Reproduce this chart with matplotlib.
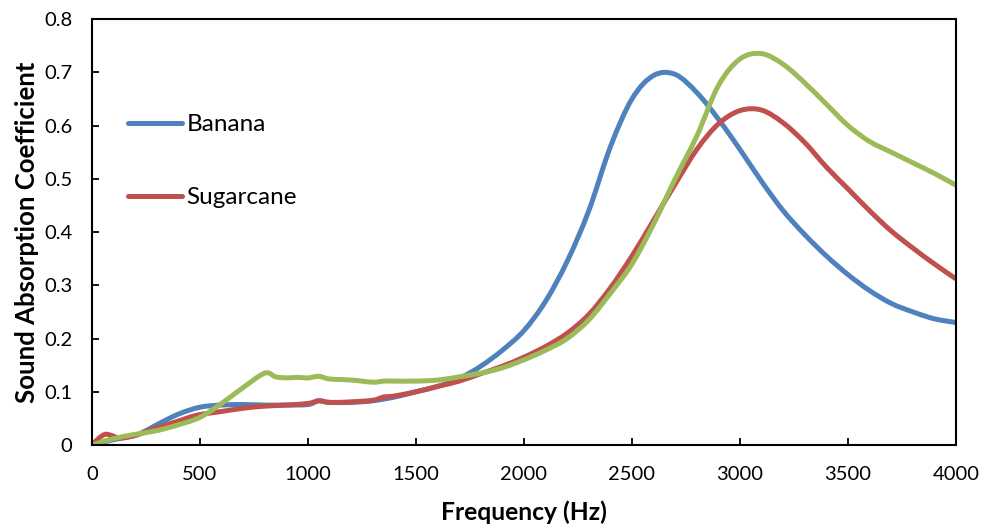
import matplotlib
matplotlib.use("Agg")
import matplotlib.pyplot as plt
from matplotlib.path import Path
from matplotlib.patches import PathPatch
from matplotlib.lines import Line2D

# Frequency (Hz) and absorption coefficients
banana_f = [0, 100, 200, 255, 300, 400, 500, 600, 700, 800, 900, 1000, 1050, 1100,
            1200, 1300, 1400, 1500, 1600, 1700, 1800, 1900, 2000, 2100, 2200, 2300,
            2400, 2500, 2600, 2700, 2800, 2900, 3000, 3100, 3200, 3300, 3400,
            3500, 3600, 3700, 3800, 3900, 4000]
banana_a = [0, 0.01, 0.018, 0.028, 0.038, 0.058, 0.071, 0.075, 0.076, 0.075, 0.075,
            0.076, 0.083, 0.08, 0.08, 0.083, 0.09, 0.1, 0.11, 0.125, 0.148, 0.178,
            0.215, 0.27, 0.345, 0.44, 0.56, 0.65, 0.694, 0.696, 0.662, 0.612,
            0.555, 0.495, 0.44, 0.395, 0.355, 0.32, 0.29, 0.266, 0.25, 0.237, 0.23]

sugar_f = [0, 30, 60, 90, 130, 200, 255, 300, 400, 486, 600, 700, 800, 900, 1000,
           1050, 1100, 1200, 1300, 1350, 1400, 1500, 1600, 1700, 1800, 1900, 2000,
           2100, 2200, 2300, 2400, 2500, 2600, 2700, 2800, 2900, 3000, 3100,
           3200, 3300, 3400, 3500, 3600, 3700, 3800, 3900, 4000]
sugar_a = [0, 0.012, 0.02, 0.018, 0.013, 0.018, 0.026, 0.032, 0.045, 0.056, 0.063,
           0.069, 0.073, 0.075, 0.078, 0.083, 0.08, 0.081, 0.084, 0.09, 0.092, 0.1,
           0.11, 0.12, 0.134, 0.148, 0.165, 0.185, 0.21, 0.245, 0.295, 0.355, 0.422,
           0.49, 0.555, 0.603, 0.628, 0.629, 0.605, 0.568, 0.522, 0.481, 0.44,
           0.402, 0.37, 0.34, 0.312]

third_f = [0, 100, 200, 300, 400, 500, 600, 700, 800, 850, 900, 950, 1000, 1050,
           1100, 1200, 1300, 1350, 1400, 1500, 1600, 1700, 1800, 1900, 2000, 2100,
           2200, 2300, 2400, 2500, 2600, 2700, 2800, 2900, 3000, 3100, 3200, 3300,
           3400, 3500, 3600, 3700, 3800, 3900, 4000]
third_a = [0, 0.012, 0.02, 0.027, 0.038, 0.052, 0.078, 0.108, 0.135, 0.128, 0.126,
           0.127, 0.126, 0.129, 0.124, 0.122, 0.118, 0.12, 0.12, 0.12, 0.122, 0.128,
           0.135, 0.145, 0.16, 0.178, 0.2, 0.235, 0.285, 0.34, 0.415, 0.5, 0.58,
           0.675, 0.725, 0.735, 0.715, 0.68, 0.64, 0.6, 0.57, 0.55, 0.53, 0.51, 0.488]

x_ticks = [0, 500, 1000, 1500, 2000, 2500, 3000, 3500, 4000]
y_ticks = [0, 0.1, 0.2, 0.3, 0.4, 0.5, 0.6, 0.7, 0.8]
y_labels = ["0", "0.1", "0.2", "0.3", "0.4", "0.5", "0.6", "0.7", "0.8"]

BLUE, RED, GREEN = "#4F81BD", "#C0504D", "#9BBB59"
LW = 3.6


def smooth_path(xs, ys):
    # Excel-style smoothed line: bezier segments through the data points
    verts = [(xs[0], ys[0])]
    codes = [Path.MOVETO]
    n = len(xs)
    for i in range(n - 1):
        x0, y0 = (xs[i - 1], ys[i - 1]) if i > 0 else (xs[i], ys[i])
        x1, y1 = xs[i], ys[i]
        x2, y2 = xs[i + 1], ys[i + 1]
        x3, y3 = (xs[i + 2], ys[i + 2]) if i + 2 < n else (x2, y2)
        c1 = (x1 + (x2 - x0) / 6, y1 + (y2 - y0) / 6)
        c2 = (x2 - (x3 - x1) / 6, y2 - (y3 - y1) / 6)
        verts += [c1, c2, (x2, y2)]
        codes += [Path.CURVE4] * 3
    return Path(verts, codes)


plt.rcParams["font.family"] = ["Lato", "DejaVu Sans"]

fig = plt.figure(figsize=(9.83, 5.27), dpi=100)
ax = fig.add_axes([0.0936, 0.1556, 0.8789, 0.8083])

for xs, ys, col in [(banana_f, banana_a, BLUE), (sugar_f, sugar_a, RED),
                    (third_f, third_a, GREEN)]:
    ax.add_patch(PathPatch(smooth_path(xs, ys), fill=False, edgecolor=col, lw=LW,
                           joinstyle="round", capstyle="butt"))

ax.set_xlim(0, 4000)
ax.set_ylim(0, 0.8)
ax.set_xticks(x_ticks)
ax.set_xticklabels([str(v) for v in x_ticks])
ax.set_yticks(y_ticks)
ax.set_yticklabels(y_labels)
ax.tick_params(direction="in", length=5, width=1.3, labelsize=14.5,
               colors="black", top=False, right=False)
ax.tick_params(axis="x", pad=15)
ax.tick_params(axis="y", pad=14)
for s in ax.spines.values():
    s.set_linewidth(1.5)

ax.set_xlabel("Frequency (Hz)", fontsize=17.7, fontweight="bold", labelpad=13)
ax.set_ylabel("Sound Absorption Coefficient", fontsize=18.5, fontweight="bold",
              labelpad=4)

handles = [Line2D([], [], color=BLUE, lw=LW, solid_capstyle="round"),
           Line2D([], [], color=RED, lw=LW, solid_capstyle="round")]
ax.legend(handles, ["Banana", "Sugarcane"], loc="upper left",
          bbox_to_anchor=(0.0417, 0.777), frameon=False, fontsize=17.5,
          handlelength=2.2, handletextpad=0.2, labelspacing=2.15,
          borderpad=0, borderaxespad=0)

fig.savefig("out.png", dpi=100)
